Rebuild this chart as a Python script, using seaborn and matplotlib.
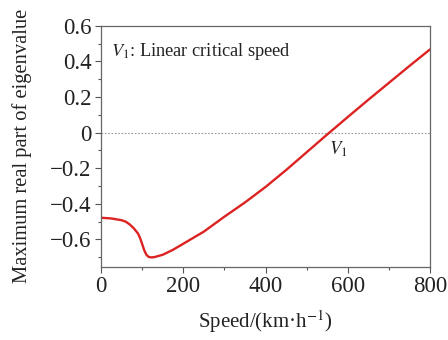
import matplotlib
matplotlib.use('Agg')
import matplotlib.pyplot as plt
import pandas as pd
import seaborn as sns
from matplotlib.ticker import MultipleLocator

# 数据：速度与最大特征值实部
speed = [0, 25, 50, 60, 70, 80, 90, 95, 100, 105, 110, 115, 122, 130, 150,
         175, 200, 250, 300, 350, 400, 450, 500, 550, 600, 650, 700, 750, 800]
max_real = [-0.478, -0.482, -0.492, -0.500, -0.516, -0.538, -0.567, -0.592,
            -0.626, -0.660, -0.685, -0.697, -0.701, -0.699, -0.686, -0.658,
            -0.624, -0.556, -0.472, -0.392, -0.305, -0.210, -0.110, -0.010,
            0.088, 0.185, 0.280, 0.375, 0.468]
x_ticks = [0, 200, 400, 600, 800]
y_ticks = [-0.6, -0.4, -0.2, 0, 0.2, 0.4, 0.6]
y_labels = ['\u22120.6', '\u22120.4', '\u22120.2', '0', '0.2', '0.4', '0.6']

df = pd.DataFrame({'speed': speed, 'value': max_real})

sns.set_theme(style='ticks')
plt.rcParams['font.family'] = ['Liberation Serif', 'DejaVu Serif']
plt.rcParams['mathtext.fontset'] = 'stix'

fig = plt.figure(figsize=(4.48, 3.40), dpi=100)
ax = fig.add_axes([0.2255, 0.2156, 0.7345, 0.7084])

ax.axhline(0, color='#999999', linestyle=(0, (1.5, 1.5)), linewidth=0.8)
sns.lineplot(data=df, x='speed', y='value', ax=ax, color='#dd2222', linewidth=1.7)

ax.set_xlim(0, 800)
ax.set_ylim(-0.753, 0.6)
ax.set_xticks(x_ticks)
ax.set_yticks(y_ticks)
ax.set_yticklabels(y_labels)
ax.xaxis.set_minor_locator(MultipleLocator(100))
ax.yaxis.set_minor_locator(MultipleLocator(0.1))
ax.tick_params(which='major', direction='out', length=4, width=0.8,
               color='#555555', labelsize=16.5, labelcolor='#222222', pad=3)
ax.tick_params(which='minor', direction='out', length=2.5, width=0.8, color='#555555')
for s in ax.spines.values():
    s.set_color('#666666')
    s.set_linewidth(0.9)

ax.set_xlabel('Speed/(km\u00b7h$^{-1}$)', fontsize=15, color='#222222', labelpad=8)
ax.set_ylabel('Maximum real part of eigenvalue', fontsize=14.8, color='#222222', labelpad=13)

ax.text(0.03, 0.935, r'$V_1$: Linear critical speed', transform=ax.transAxes,
        fontsize=13.2, color='#222222', va='top', ha='left')
ax.text(555, -0.035, r'$V_1$', fontsize=13.5, color='#222222', va='top', ha='left')

fig.savefig('out.png', dpi=100)
